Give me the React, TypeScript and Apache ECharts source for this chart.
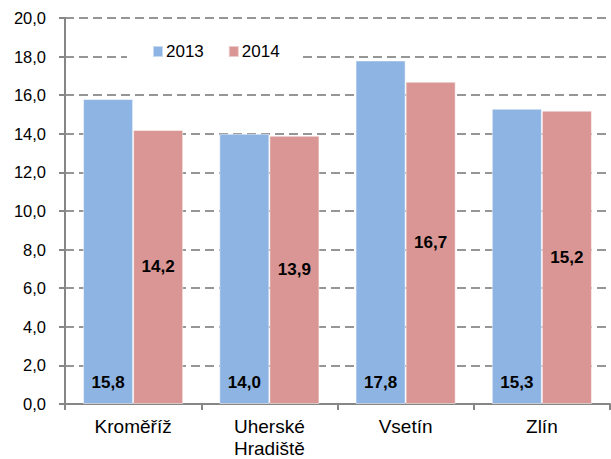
import React, { useEffect, useRef } from "react";
import * as echarts from "echarts";

const categories = ["Kroměříž", "Uherské\nHradiště", "Vsetín", "Zlín"];
const values2013 = [15.8, 14.0, 17.8, 15.3];
const values2014 = [14.2, 13.9, 16.7, 15.2];
const seriesNames = ["2013", "2014"];

const fmt = (v: number) => v.toFixed(1).replace(".", ",");
const FONT = "Liberation Sans";

export default function App() {
  const ref = useRef<HTMLDivElement>(null);
  useEffect(() => {
    if (!ref.current) return;
    const chart = echarts.init(ref.current, undefined, { renderer: "svg" });
    chart.setOption({
      animation: false,
      textStyle: { fontFamily: FONT },
      grid: { left: 65, right: 1, top: 18, bottom: 55, containLabel: false },
      legend: {
        data: seriesNames,
        left: 127,
        top: 37,
        backgroundColor: "#ffffff",
        padding: [6, 20, 6, 25],
        itemWidth: 10,
        itemHeight: 11,
        itemGap: 24,
        icon: "rect",
        textStyle: { fontFamily: FONT, fontSize: 17, color: "#000", padding: [0, 0, 0, -2] },
      },
      xAxis: {
        type: "category",
        data: categories,
        axisLine: { lineStyle: { color: "#868686", width: 2 } },
        axisTick: { show: true, length: 6, lineStyle: { color: "#868686", width: 2 } },
        axisLabel: {
          interval: 0,
          margin: 11,
          fontFamily: FONT,
          fontSize: 19,
          color: "#000",
          lineHeight: 22,
        },
      },
      yAxis: {
        type: "value",
        min: 0,
        max: 20,
        interval: 2,
        axisLine: { show: true, lineStyle: { color: "#868686", width: 2 } },
        axisTick: { show: true, length: 6, lineStyle: { color: "#868686", width: 2 } },
        axisLabel: {
          margin: 19,
          fontFamily: FONT,
          fontSize: 16.5,
          color: "#000",
          formatter: (v: number) => fmt(v),
        },
        splitLine: {
          show: true,
          lineStyle: { color: "#969696", width: 2, type: [9, 5] },
        },
      },
      series: [
        {
          name: seriesNames[0],
          type: "bar",
          data: values2013,
          barCategoryGap: "26.5%",
          barGap: "0%",
          itemStyle: { color: "#8EB4E3", borderColor: "rgba(255,255,255,0.5)", borderWidth: 1 },
          label: {
            show: true,
            position: "insideBottom",
            distance: 13,
            fontFamily: FONT,
            fontSize: 17,
            fontWeight: "bold",
            color: "#000",
            formatter: (p: any) => fmt(p.value),
          },
        },
        {
          name: seriesNames[1],
          type: "bar",
          data: values2014,
          barCategoryGap: "26.5%",
          barGap: "0%",
          itemStyle: { color: "#D99694", borderColor: "rgba(255,255,255,0.5)", borderWidth: 1 },
          label: {
            show: true,
            position: "inside",
            fontFamily: FONT,
            fontSize: 17,
            fontWeight: "bold",
            color: "#000",
            formatter: (p: any) => fmt(p.value),
          },
        },
      ],
    });
    return () => chart.dispose();
  }, []);
  return (
    <div
      ref={ref}
      style={{ position: "fixed", left: 0, top: 0, width: 611, height: 459, background: "#fff" }}
    />
  );
}
